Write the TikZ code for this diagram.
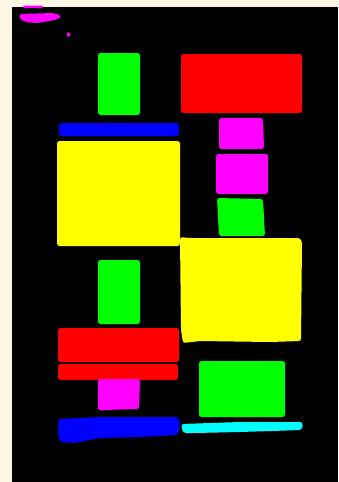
\documentclass[tikz,border=0pt]{standalone}
\definecolor{cream}{RGB}{253,246,227}
\definecolor{pR}{RGB}{255,0,0}
\definecolor{pG}{RGB}{0,255,0}
\definecolor{pB}{RGB}{0,0,255}
\definecolor{pY}{RGB}{255,255,0}
\definecolor{pM}{RGB}{255,0,255}
\definecolor{pC}{RGB}{0,255,255}
\begin{document}
\begin{tikzpicture}[x=1pt,y=-1pt,
  blk/.style={rounded corners=2.5pt},
  blob/.style={rounded corners=3pt}]
\useasboundingbox (0,0) rectangle (338,482);
\fill[cream] (0,0) rectangle (338,482);
\fill[black] (12,7) rectangle (338,482);
% top-left magenta marks
\fill[pM,rounded corners=1pt] (23,5.5) rectangle (43,8);
\fill[pM,blob] (19,14) -- (54,13) -- (62,16) -- (57,19.5) -- (38,23) -- (28,22.5) -- (20,19.5) -- cycle;
\fill[pM] (68.5,34.5) circle (2);
% left column
\fill[pG,blk] (98,53) rectangle (140,115);
\fill[pB,blk] (59,123) rectangle (179,136);
\fill[pY,blk] (57,141) rectangle (180,246);
\fill[pG,blk] (98,260) rectangle (140,324);
\fill[pR,blk] (58,328) rectangle (179,362);
\fill[pR,blk] (58,364) rectangle (178,380);
\fill[pM,blk] (98,379) -- (140,379) -- (139,409) -- (118,409.5) -- (98,410.5) -- cycle;
\fill[pB,blob] (58,419) -- (100,417) -- (178,417) -- (180,423) -- (178,435) -- (140,437) -- (100,438) -- (75,443) -- (60,442) -- (58,433) -- cycle;
% right column
\fill[pR,blk] (181,54) rectangle (302,113);
\fill[pM,blk] (219,118) -- (263,118) -- (264,149) -- (219,149) -- cycle;
\fill[pM,blk] (216,154) rectangle (268,194);
\fill[pG,blk] (217,198) -- (263,199) -- (265,236) -- (219,236) -- cycle;
\fill[pY,blk] (180,237) -- (190,238) -- (300,238) -- (302,242) -- (301,341) -- (270,342) -- (200,341) -- (183,343) -- (181,330) -- cycle;
\fill[pG,blk] (199,361) rectangle (285,417);
\fill[pC,blob] (181,424) -- (240,422) -- (303,422) -- (302,430) -- (240,432) -- (195,433) -- (183,433) -- cycle;
\end{tikzpicture}
\end{document}
